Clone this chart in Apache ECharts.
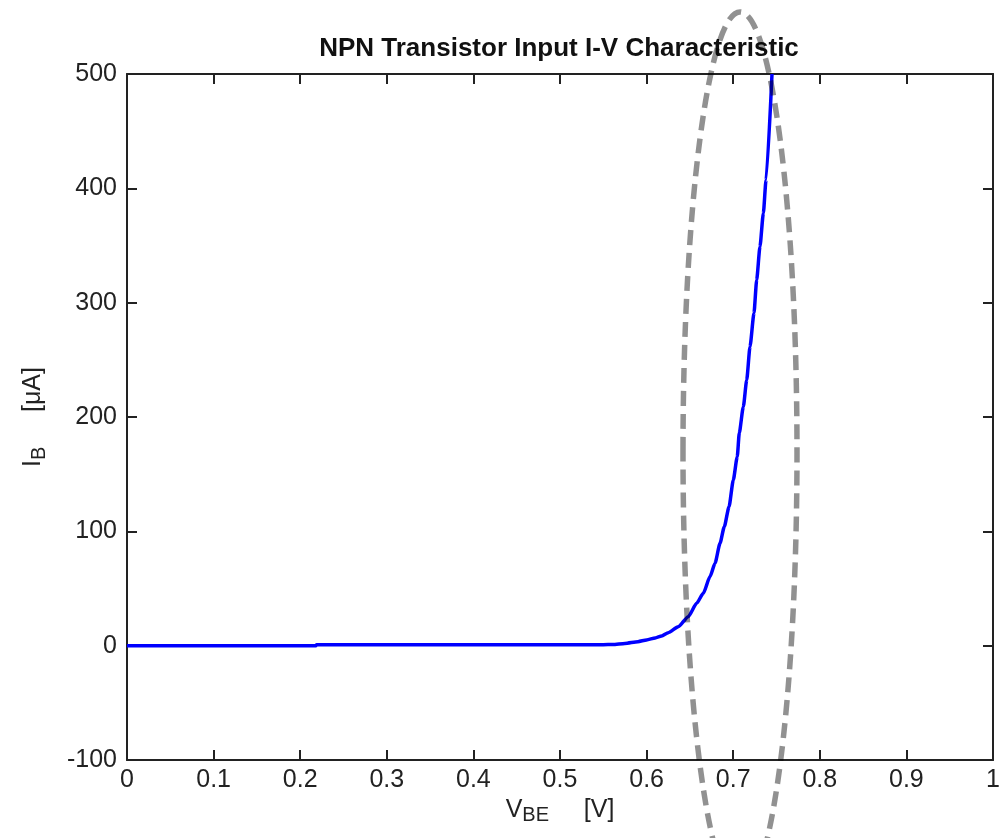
<!DOCTYPE html>
<html>
<head>
<meta charset="utf-8">
<script src="https://cdn.jsdelivr.net/npm/echarts@6/dist/echarts.min.js"></script>
<style>
html,body{margin:0;padding:0;background:#fff;}
#chart{width:999px;height:838px;}
</style>
</head>
<body>
<div id="chart"></div>
<script>
// V_BE values [V]
var vbe = [0, 0.1, 0.2, 0.218, 0.219, 0.3, 0.4, 0.5, 0.55, 0.561, 0.575, 0.59, 0.6, 0.61, 0.6174, 0.6251, 0.6366, 0.6481, 0.6578, 0.6655, 0.6732, 0.679, 0.6848, 0.6897, 0.6952, 0.7001, 0.7047, 0.707, 0.7117, 0.7156, 0.7194, 0.724, 0.7271, 0.7309, 0.7348, 0.7379, 0.7448];
// I_B values [uA]
var ib  = [0, 0, 0, 0, 0.9, 0.9, 0.9, 0.9, 0.9, 1.0, 2.0, 3.5, 5.0, 6.8, 8.5, 11.4, 16.6, 25.4, 37.1, 45.8, 60.4, 72.1, 89.6, 104.1, 121.6, 144.9, 165.3, 186.0, 209.0, 232.4, 261.5, 291.0, 319.9, 349.0, 378.2, 407.3, 500];
var xTicks = {min: 0, max: 1, interval: 0.1};
var yTicks = {min: -100, max: 500, interval: 100};
var titleText = 'NPN Transistor Input I-V Characteristic';

var font = "'Liberation Sans', Arial, sans-serif";
var lineCol = '#222';

var seriesData = vbe.map(function (v, i) { return [v, ib[i]]; });

var chart = echarts.init(document.getElementById('chart'), null, {renderer: 'canvas'});

function axisBase(show) {
  return {
    axisLine: {show: true, onZero: false, lineStyle: {color: lineCol, width: 2}},
    axisTick: {show: true, inside: true, length: 10, lineStyle: {color: lineCol, width: 2}},
    splitLine: {show: false},
    axisLabel: {show: show, color: '#222', fontSize: 25, fontFamily: font}
  };
}

var xMain = Object.assign(axisBase(true), {
  type: 'value', position: 'bottom',
  min: xTicks.min, max: xTicks.max, interval: xTicks.interval,
  name: '{a|V}{b|BE}{a|     [V]}',
  nameLocation: 'middle', nameGap: 32,
  nameTextStyle: {
    rich: {
      a: {fontSize: 25, fontFamily: font, color: '#222', lineHeight: 28, verticalAlign: 'top'},
      b: {fontSize: 20, fontFamily: font, color: '#222', lineHeight: 22, verticalAlign: 'bottom'}
    }
  }
});
xMain.axisLabel.margin = 8;
xMain.axisLabel.formatter = function (v) { return String(+v.toFixed(1)); };

var xTop = Object.assign(axisBase(false), {
  type: 'value', position: 'top',
  min: xTicks.min, max: xTicks.max, interval: xTicks.interval
});

var yMain = Object.assign(axisBase(true), {
  type: 'value', position: 'left',
  min: yTicks.min, max: yTicks.max, interval: yTicks.interval,
  name: '{a|I}{b|B}{a|     [\u03bcA]}',
  nameLocation: 'middle', nameGap: 78, nameRotate: 90,
  nameTextStyle: {
    rich: {
      a: {fontSize: 25, fontFamily: font, color: '#222', lineHeight: 28, verticalAlign: 'top'},
      b: {fontSize: 20, fontFamily: font, color: '#222', lineHeight: 22, verticalAlign: 'bottom'}
    }
  }
});
yMain.axisLabel.margin = 10;

var yRight = Object.assign(axisBase(false), {
  type: 'value', position: 'right',
  min: yTicks.min, max: yTicks.max, interval: yTicks.interval
});

chart.setOption({
  animation: false,
  backgroundColor: '#fff',
  title: {
    text: titleText,
    left: 554, top: 31, textAlign: 'center',
    textStyle: {fontSize: 26, fontWeight: 'bold', fontFamily: font, color: '#111'}
  },
  grid: {left: 127, right: 6, top: 74, bottom: 78, containLabel: false, outerBoundsMode: 'none'},
  xAxis: [xMain, xTop],
  yAxis: [yMain, yRight],
  series: [{
    type: 'line',
    xAxisIndex: 0, yAxisIndex: 0,
    data: seriesData,
    showSymbol: false,
    smooth: 0.2,
    smoothMonotone: 'x',
    lineStyle: {color: '#0000ff', width: 3.5},
    itemStyle: {color: '#0000ff'},
    z: 5
  }],
  graphic: [{
    type: 'ellipse',
    shape: {cx: 740, cy: 452, rx: 57, ry: 440},
    style: {fill: null, stroke: 'rgba(0,0,0,0.43)', lineWidth: 5.5, lineDash: [15, 8]},
    z: 100
  }]
});
</script>
</body>
</html>
